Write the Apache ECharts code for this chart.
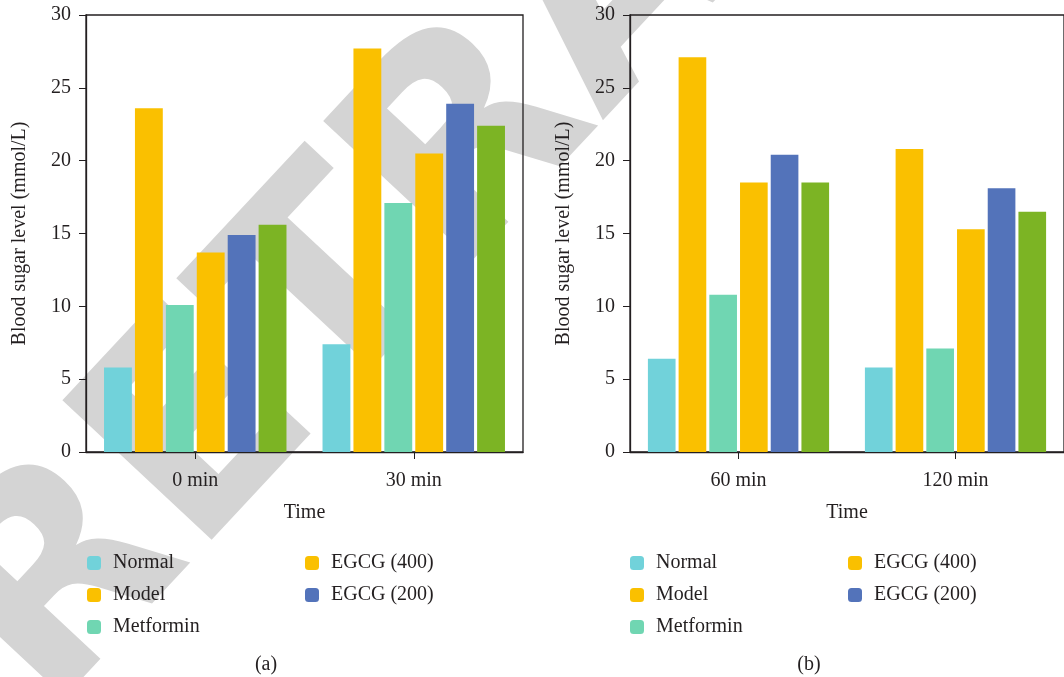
<!DOCTYPE html>
<html>
<head>
<meta charset="utf-8">
<script src="https://cdn.jsdelivr.net/npm/echarts@6/dist/echarts.min.js"></script>
<style>
  html, body { margin: 0; padding: 0; background: #fff; }
  #chart { width: 1064px; height: 677px; }
</style>
</head>
<body>
<div id="chart"></div>
<script>
// categories
var timesA = ['0 min', '30 min']
var timesB = ['60 min', '120 min']
var yTicks = [0, 5, 10, 15, 20, 25, 30]

// series values (mmol/L) for panel (a) and (b)
var normalA = [5.8, 7.4]
var modelA = [23.6, 27.7]
var metforminA = [10.1, 17.1]
var egcg400A = [13.7, 20.5]
var egcg200A = [14.9, 23.9]
var egcg100A = [15.6, 22.4]

var normalB = [6.4, 5.8]
var modelB = [27.1, 20.8]
var metforminB = [10.8, 7.1]
var egcg400B = [18.5, 15.3]
var egcg200B = [20.4, 18.1]
var egcg100B = [18.5, 16.5]

var names = ['Normal', 'Model', 'Metformin', 'EGCG (400)', 'EGCG (200)', 'EGCG (100)']
var colors = ['#71d2da', '#fac000', '#70d6b2', '#fac000', '#5373ba', '#7cb424']

var FONT = 'Liberation Serif'
var INK = '#231f20'

var chart = echarts.init(document.getElementById('chart'))

function yAxis(idx) {
  return {
    gridIndex: idx,
    type: 'value',
    min: yTicks[0],
    max: yTicks[yTicks.length - 1],
    interval: 5,
    name: 'Blood sugar level (mmol/L)',
    nameLocation: 'middle',
    nameGap: 56,
    nameTextStyle: { fontFamily: FONT, fontSize: 20, color: INK },
    axisLine: { show: true, lineStyle: { color: INK, width: 1.3 } },
    axisTick: { show: true, length: 7, lineStyle: { color: INK } },
    axisLabel: { margin: 15, fontFamily: FONT, fontSize: 20, color: INK },
    splitLine: { show: false }
  }
}

function xAxis(idx, cats) {
  return {
    gridIndex: idx,
    type: 'category',
    data: cats,
    name: 'Time',
    nameLocation: 'middle',
    nameGap: 51,
    nameTextStyle: { fontFamily: FONT, fontSize: 20, color: INK },
    axisLine: { show: true, lineStyle: { color: INK, width: 1.3 } },
    axisTick: { show: true, alignWithLabel: true, length: 7, lineStyle: { color: INK } },
    axisLabel: { margin: 19, fontFamily: FONT, fontSize: 20, color: INK }
  }
}

function bars(idx, list) {
  return list.map(function (d, i) {
    return {
      name: names[i],
      type: 'bar',
      xAxisIndex: idx,
      yAxisIndex: idx,
      barGap: '11%',
      barCategoryGap: '16.5%',
      itemStyle: { color: colors[i] },
      z: 3,
      data: d
    }
  })
}

function legend(left, data) {
  return {
    left: left,
    top: 553,
    padding: 0,
    orient: 'vertical',
    itemWidth: 14,
    itemHeight: 14,
    itemGap: 12,
    icon: 'roundRect',
    selectedMode: false,
    data: data,
    textStyle: { fontFamily: FONT, fontSize: 20, color: INK, padding: [0, 0, 0, 7] }
  }
}

var col1 = ['Normal', 'Model', 'Metformin']
var col2 = ['EGCG (400)', 'EGCG (200)']

chart.setOption({
  backgroundColor: '#fff',
  animation: false,
  grid: [
    { left: 86, top: 15, width: 437, height: 437, show: true, borderColor: INK, borderWidth: 1.3 },
    { left: 630, top: 15, width: 438, height: 437, show: true, borderColor: INK, borderWidth: 1.3 }
  ],
  xAxis: [xAxis(0, timesA), xAxis(1, timesB)],
  yAxis: [yAxis(0), yAxis(1)],
  legend: [legend(87, col1), legend(305, col2), legend(630, col1), legend(848, col2)],
  graphic: [
    // RETRACTED watermark behind the plot
    {
      type: 'text',
      x: 625,
      y: -10,
      rotation: 0.82,
      z: -100,
      silent: true,
      style: {
        text: 'RETRACTED',
        font: 'bold 280px "DejaVu Sans"',
        fill: '#d4d4d4',
        textAlign: 'center',
        textVerticalAlign: 'middle'
      }
    },
    { type: 'text', x: 266, y: 665, style: { text: '(a)', font: '20px "Liberation Serif"', fill: INK, textAlign: 'center', textVerticalAlign: 'middle' } },
    { type: 'text', x: 809, y: 665, style: { text: '(b)', font: '20px "Liberation Serif"', fill: INK, textAlign: 'center', textVerticalAlign: 'middle' } }
  ],
  series: bars(0, [normalA, modelA, metforminA, egcg400A, egcg200A, egcg100A])
    .concat(bars(1, [normalB, modelB, metforminB, egcg400B, egcg200B, egcg100B]))
})
</script>
</body>
</html>
